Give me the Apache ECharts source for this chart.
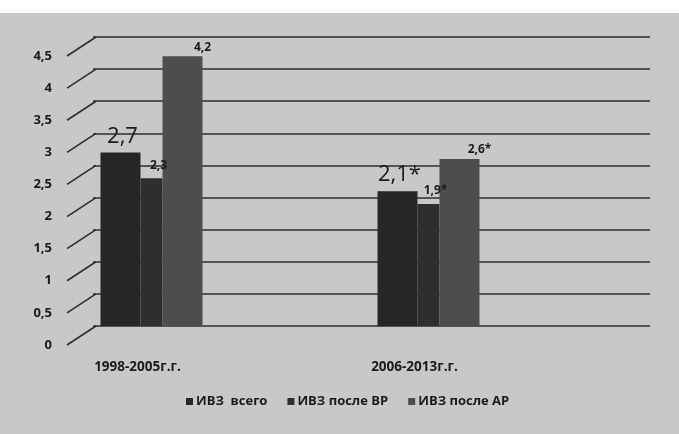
<!DOCTYPE html>
<html>
<head>
<meta charset="utf-8">
<script src="https://cdn.jsdelivr.net/npm/echarts@6/dist/echarts.min.js"></script>
<style>
html,body{margin:0;padding:0;background:#fff;}
#c{width:679px;height:434px;background:linear-gradient(#ffffff 0,#ffffff 13px,#c8c8c8 13px,#c8c8c8 100%);}
</style>
</head>
<body>
<div id="c"></div>
<script>
// ---- data ----
const categories = ['1998-2005г.г.', '2006-2013г.г.'];
const seriesNames = ['ИВЗ  всего', 'ИВЗ после ВР', 'ИВЗ после АР'];
const ivzTotal = [2.7, 2.1];
const ivzAfterVR = [2.3, 1.9];
const ivzAfterAR = [4.2, 2.6];
const marksTotal = ['', '*'];
const marksVR = ['', '*'];
const marksAR = ['', '*'];
const yTicks = [0, 0.5, 1, 1.5, 2, 2.5, 3, 3.5, 4, 4.5];

const FONT = '"Open Sans", Lato, sans-serif';
const fmt = v => String(v).replace('.', ',');
const chart = echarts.init(document.getElementById('c'), null, {renderer: 'canvas'});

function lbl(marks, size, weight, dist, off) {
  return {
    show: true, position: 'top', distance: dist, offset: off,
    fontFamily: FONT, fontSize: size, fontWeight: weight, color: '#1a1a1a',
    formatter: p => fmt(p.value) + marks[p.dataIndex]
  };
}

chart.setOption({
  backgroundColor: 'transparent',
  animation: false,
  grid: [
    {left: 93, right: 29, top: 37, bottom: 108},
    {left: 13, right: 112, top: 37, bottom: 108},
    {left: 93, right: 29, top: 56, bottom: 89}
  ],
  xAxis: [
    {gridIndex: 0, type: 'value', min: 0, max: 1, show: false},
    {gridIndex: 1, type: 'category', data: categories,
     axisLine: {show: false}, axisTick: {show: false},
     axisLabel: {margin: 34, fontFamily: FONT, fontSize: 13.5, fontWeight: 'bold', color: '#1a1a1a', padding: [0, 28, 0, 0]}},
    {gridIndex: 2, type: 'value', min: 0, max: 1, show: false}
  ],
  yAxis: [
    {gridIndex: 0, type: 'value', min: 0, max: 4.5, interval: 0.5,
     axisLine: {show: false}, axisTick: {show: false}, axisLabel: {show: false},
     splitLine: {show: true, lineStyle: {color: '#2e2e2e', width: 1.6}}},
    {gridIndex: 1, type: 'value', min: 0, max: 4.5, interval: 0.5, show: false, splitLine: {show: false}},
    {gridIndex: 2, type: 'value', min: 0, max: 4.5, interval: 0.5,
     axisLine: {show: false}, axisTick: {show: false}, splitLine: {show: false},
     axisLabel: {margin: 41, fontFamily: FONT, fontSize: 13, fontWeight: 'bold', color: '#1a1a1a',
                 formatter: v => fmt(v)}}
  ],
  legend: {
    data: seriesNames, bottom: 21, left: 181, itemWidth: 7, itemHeight: 7, itemGap: 20,
    icon: 'rect',
    textStyle: {fontFamily: FONT, fontSize: 13, fontWeight: 'bold', color: '#1a1a1a', padding: [0, 0, 0, -2]}
  },
  series: [
    {
      type: 'custom', xAxisIndex: 0, yAxisIndex: 0, silent: true,
      data: yTicks.map(v => [0, v]),
      renderItem: (params, api) => {
        const p = api.coord([0, api.value(1)]);
        return {type: 'line', shape: {x1: p[0] - 26, y1: p[1] + 19, x2: p[0] + 3, y2: p[1]},
                style: {stroke: '#2e2e2e', lineWidth: 1.6}};
      }
    },
    {name: seriesNames[0], type: 'bar', xAxisIndex: 1, yAxisIndex: 1, data: ivzTotal,
     barWidth: 40, barGap: '0%', itemStyle: {color: '#262626'},
     label: lbl(marksTotal, 22, 'normal', 5, [2, 0])},
    {name: seriesNames[1], type: 'bar', xAxisIndex: 1, yAxisIndex: 1, data: ivzAfterVR,
     barWidth: 22, barGap: '0%', itemStyle: {color: '#2e2e2e'},
     label: lbl(marksVR, 12, 'bold', 7, [7, 0])},
    {name: seriesNames[2], type: 'bar', xAxisIndex: 1, yAxisIndex: 1, data: ivzAfterAR,
     barWidth: 40, barGap: '0%', itemStyle: {color: '#4d4d4d'},
     label: lbl(marksAR, 12, 'bold', 3, [20, 0])}
  ]
});
</script>
</body>
</html>
